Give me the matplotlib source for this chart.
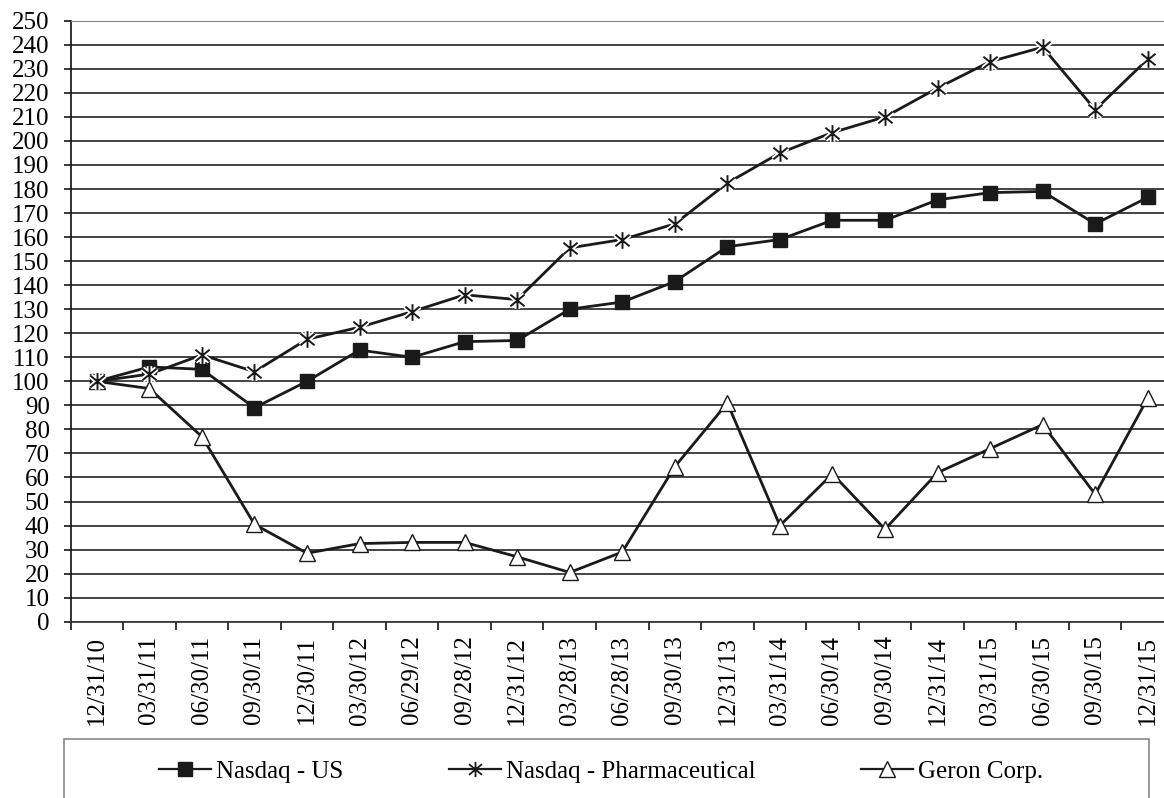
import matplotlib
matplotlib.use("Agg")
import matplotlib.pyplot as plt
from matplotlib.path import Path
from matplotlib.patches import Rectangle

FONT = 'Liberation Serif'
plt.rcParams['font.family'] = FONT
plt.rcParams['font.size'] = 18

# quarter-end dates
dates = ["12/31/10", "03/31/11", "06/30/11", "09/30/11", "12/30/11", "03/30/12",
         "06/29/12", "09/28/12", "12/31/12", "03/28/13", "06/28/13", "09/30/13",
         "12/31/13", "03/31/14", "06/30/14", "09/30/14", "12/31/14", "03/31/15",
         "06/30/15", "09/30/15", "12/31/15"]

nasdaq_us = [100, 106, 105, 89, 100, 113, 110, 116.5, 117, 130, 133, 141.5,
             156, 159, 167, 167, 175.5, 178.5, 179, 165.5, 176.5]
nasdaq_pharma = [100, 103, 111, 104, 117.5, 122.5, 129, 136, 134, 155.5, 159, 165.5,
                 182.5, 195, 203.5, 210, 222, 233, 239, 213, 234]
geron = [100, 97, 77, 40.5, 28.5, 32.5, 33, 33, 27, 20.5, 29, 64.5,
         91, 40, 61.5, 38.5, 62, 72, 82, 53, 93]

# asterisk marker: vertical bar plus an X
star = Path([(0, -1), (0, 1), (-0.85, -0.7), (0.85, 0.7), (-0.85, 0.7), (0.85, -0.7)],
            [Path.MOVETO, Path.LINETO, Path.MOVETO, Path.LINETO, Path.MOVETO, Path.LINETO])

fig = plt.figure(figsize=(11.64, 7.98), dpi=100)
ax = fig.add_axes([0.0606, 0.2209, 0.948, 0.7531])

x = list(range(len(dates)))

ax.plot(x, nasdaq_us, color='#1a1a1a', lw=2.0, marker='s', ms=10,
        mfc='#1a1a1a', mec='#1a1a1a', zorder=3)
ax.plot(x, nasdaq_pharma, color='#1a1a1a', lw=2.0, zorder=3)
# white halo around the asterisks
ax.plot(x, nasdaq_pharma, ls='', marker=star, ms=12, mec='white', mew=4, zorder=4)
ax.plot(x, nasdaq_pharma, ls='', marker=star, ms=12, mec='#1a1a1a', mew=1.4, zorder=5)
ax.plot(x, geron, color='#1a1a1a', lw=2.0, marker='^', ms=11,
        mfc='white', mec='#1a1a1a', mew=1.0, zorder=3)

ax.set_xlim(-0.5, len(dates) - 0.5)
ax.set_ylim(0, 250)
ax.set_yticks(range(0, 251, 10))
ax.yaxis.grid(True, color='#111111', lw=1.1)
ax.set_axisbelow(True)

ax.set_xticks(x)
ax.set_xticklabels(dates, rotation=90)
ax.set_xticks([i - 0.5 for i in range(len(dates) + 1)], minor=True)
ax.tick_params(axis='x', which='major', length=0, pad=10)
ax.tick_params(axis='x', which='minor', length=6, width=1.1, direction='out')
ax.tick_params(axis='y', length=5, width=1.1, pad=10)
for lbl in ax.get_xticklabels() + ax.get_yticklabels():
    lbl.set_fontfamily(FONT)
    lbl.set_fontsize(18)

ax.spines['left'].set_color('#111111')
ax.spines['left'].set_linewidth(1.2)
ax.spines['bottom'].set_color('#333333')
ax.spines['bottom'].set_linewidth(1.2)
ax.spines['top'].set_color('#888888')
ax.spines['right'].set_visible(False)

# legend frame
fig.patches.append(Rectangle((64 / 1164, -0.05), (1149 - 64) / 1164, 0.05 + 1 - 739 / 798,
                             transform=fig.transFigure, fill=False,
                             edgecolor='#888888', lw=1.2))

h1, = ax.plot([], [], color='#1a1a1a', lw=1.6, marker='s', ms=10, mfc='#1a1a1a')
h2, = ax.plot([], [], color='#1a1a1a', lw=1.6, marker=star, ms=11, mew=1.3)
h3, = ax.plot([], [], color='#1a1a1a', lw=1.6, marker='^', ms=11, mfc='white', mew=1.0)
fig.legend([h1, h2, h3], ["Nasdaq - US", "Nasdaq - Pharmaceutical", "Geron Corp."],
           loc='center', bbox_to_anchor=(601 / 1164, 0.033), ncol=3, frameon=False,
           handlelength=2.1, handletextpad=0.2, columnspacing=4.2,
           prop={'family': FONT, 'size': 18})

fig.savefig("out.png", dpi=100)
